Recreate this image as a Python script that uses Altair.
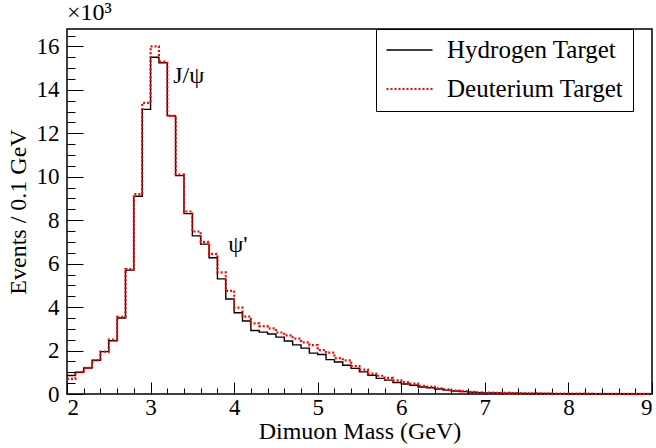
import altair as alt
import pandas as pd

# bin low edges (GeV), 0.1 GeV bins from 2.0 to 9.0
mass_low = [round(2.0 + 0.1 * i, 1) for i in range(70)]

# Events per 0.1 GeV, in units of 10^3
hydrogen = [0.85, 1.0, 1.2, 1.55, 1.95, 2.45, 3.5, 5.7, 9.1, 13.1,
            15.5, 15.25, 12.8, 10.05, 8.3, 7.28, 6.9, 6.27, 5.3, 4.37,
            3.74, 3.36, 2.92, 2.85, 2.76, 2.62, 2.44, 2.26, 2.11, 1.88,
            1.82, 1.58, 1.47, 1.32, 1.18, 1.02, 0.86, 0.72, 0.64, 0.53,
            0.46, 0.40, 0.32, 0.29, 0.23, 0.18, 0.14, 0.11, 0.08, 0.065,
            0.05, 0.045, 0.04, 0.035, 0.03, 0.026, 0.023, 0.02, 0.018, 0.016,
            0.014, 0.012, 0.011, 0.01, 0.009, 0.008, 0.007, 0.006, 0.005, 0.005]
deuterium = [0.7, 1.0, 1.2, 1.55, 1.95, 2.5, 3.55, 5.75, 9.2, 13.4,
             16.0, 15.3, 12.8, 10.1, 8.4, 7.48, 7.0, 6.45, 5.6, 4.75,
             3.98, 3.56, 3.25, 3.12, 3.02, 2.83, 2.7, 2.55, 2.38, 2.25,
             2.02, 1.9, 1.65, 1.55, 1.28, 1.12, 0.94, 0.84, 0.74, 0.63,
             0.55, 0.48, 0.37, 0.34, 0.26, 0.21, 0.16, 0.13, 0.10, 0.08,
             0.06, 0.055, 0.05, 0.042, 0.036, 0.031, 0.027, 0.024, 0.021, 0.019,
             0.017, 0.015, 0.013, 0.012, 0.011, 0.01, 0.009, 0.008, 0.007, 0.006]

series_names = ["Hydrogen Target", "Deuterium Target"]
x_major = [2, 3, 4, 5, 6, 7, 8, 9]
x_minor = [round(2.0 + 0.2 * i, 1) for i in range(36)]
y_major = [0, 2, 4, 6, 8, 10, 12, 14, 16]
y_minor = [0.5 * i for i in range(34)]

ann_text = ["J/ψ", "ψ'"]
ann_x = [3.27, 3.93]
ann_y = [14.65, 6.85]

rows = []
for name, vals in zip(series_names, [hydrogen, deuterium]):
    for xl, v in zip(mass_low, vals):
        rows.append({"mass": xl, "events": v, "target": name})
    rows.append({"mass": 9.0, "events": vals[-1], "target": name})
df = pd.DataFrame(rows)
ann = pd.DataFrame({"text": ann_text, "mass": ann_x, "events": ann_y})

FONT = "Liberation Serif"
xs = alt.Scale(domain=[2, 9], nice=False, zero=False)
ys = alt.Scale(domain=[0, 16.8], nice=False)

lines = alt.Chart(df).mark_line(interpolate="step-after").encode(
    x=alt.X("mass:Q", scale=xs,
            axis=alt.Axis(orient="bottom", values=x_major, ticks=False, domain=False, grid=False,
                          title="Dimuon Mass (GeV)", labelFontSize=23, titleFontSize=24,
                          labelPadding=2, titlePadding=0, labelFont=FONT, titleFont=FONT,
                          labelColor="black", titleColor="black", titleFontWeight="normal")),
    y=alt.Y("events:Q", scale=ys,
            axis=alt.Axis(orient="left", values=y_major, ticks=False, domain=False, grid=False,
                          title="Events / 0.1 GeV", labelFontSize=23, titleFontSize=24,
                          labelPadding=8, titlePadding=6, labelFont=FONT, titleFont=FONT,
                          labelColor="black", titleColor="black", titleFontWeight="normal")),
    color=alt.Color("target:N", scale=alt.Scale(domain=series_names, range=["black", "#ff0000"]),
                    title=None),
    strokeDash=alt.StrokeDash("target:N", scale=alt.Scale(domain=series_names, range=[[1, 0], [2, 2]]),
                              title=None),
    strokeWidth=alt.StrokeWidth("target:N", scale=alt.Scale(domain=series_names, range=[1.4, 2.2]),
                                title=None),
    order=alt.Order("order:Q"),
).transform_calculate(order="datum.target == 'Hydrogen Target' ? 0 : 1")

def tick_layer(xvals, xlen, yvals, ylen):
    return alt.Chart(df).mark_point(opacity=0).encode(
        x=alt.X("mass:Q", scale=xs,
                axis=alt.Axis(orient="bottom", values=xvals, labels=False, domain=False, grid=False,
                              title=None, tickSize=xlen, offset=-xlen, tickColor="black", tickWidth=1)),
        y=alt.Y("events:Q", scale=ys,
                axis=alt.Axis(orient="left", values=yvals, labels=False, domain=False, grid=False,
                              title=None, tickSize=ylen, offset=-ylen, tickColor="black", tickWidth=1)),
    )

major = tick_layer(x_major, 12, y_major, 16)
minor = tick_layer(x_minor, 6, y_minor, 8)

labels = alt.Chart(ann).mark_text(align="left", baseline="middle", font=FONT, fontSize=24,
                                  color="black").encode(
    x=alt.X("mass:Q", scale=xs, axis=None), y=alt.Y("events:Q", scale=ys, axis=None), text="text:N")

chart = alt.layer(minor, major, lines, labels).resolve_axis(
    x="independent", y="independent"
).properties(
    width=585, height=365, autosize="none",
    padding={"left": 67, "top": 29, "right": 4, "bottom": 54},
    title=alt.TitleParams(text="×10³", anchor="start", frame="group", offset=4,
                          fontSize=24, font=FONT, fontWeight="normal", color="black"),
).configure_view(stroke="black", strokeWidth=1.5
).configure_legend(
    orient="none", legendX=309, legendY=0, strokeColor="black", fillColor="white",
    padding=9, symbolType="stroke", symbolSize=2116, labelFont=FONT, labelFontSize=25,
    labelColor="black", labelOffset=13, rowPadding=14, clipHeight=24,
    cornerRadius=0, labelLimit=400,
)

chart.save("out.html", embed_options={"renderer": "svg", "actions": False})
